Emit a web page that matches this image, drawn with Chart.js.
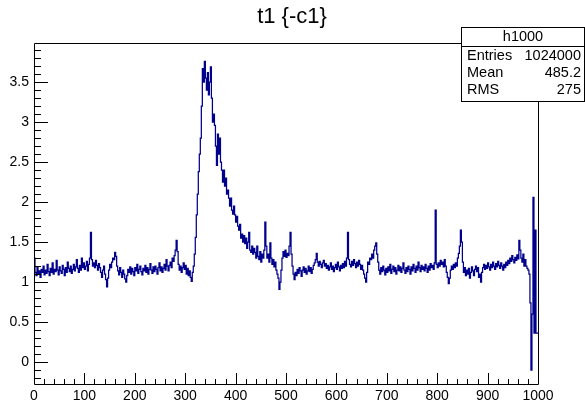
<!DOCTYPE html>
<html>
<head>
<meta charset="utf-8">
<script src="https://cdn.jsdelivr.net/npm/chart.js@4.4.0/dist/chart.umd.min.js"></script>
<style>
  body { margin: 0; background: #fff; }
  canvas { display: block; }
</style>
</head>
<body>
<canvas id="c1" width="585" height="406"></canvas>
<script>
// h1000: 1000 bins from 0 to 1000 in groups of 2 bins
var binWidth = 2;
var counts = [
  1.70, 1.30, 1.12, 1.08, 1.18, 1.10, 1.14, 1.06, 1.16, 1.12,
  1.20, 1.09, 1.15, 1.11, 1.22, 1.13, 1.08, 1.17, 1.12, 1.24,
  1.10, 1.16, 1.13, 1.27, 1.15, 1.09, 1.19, 1.14, 1.11, 1.21,
  1.16, 1.08, 1.18, 1.12, 1.25, 1.17, 1.13, 1.20, 1.11, 1.16,
  1.22, 1.14, 1.19, 1.28, 1.17, 1.12, 1.21, 1.15, 1.30, 1.18,
  1.24, 1.16, 1.20, 1.26, 1.14, 1.22, 1.30, 1.62, 1.28, 1.20,
  1.24, 1.18, 1.27, 1.21, 1.15, 1.23, 1.18, 1.12, 1.06, 1.15,
  1.20, 1.10, 1.03, 0.94, 1.05, 1.15, 1.22, 1.18, 1.25, 1.30,
  1.28, 1.37, 1.32, 1.20, 1.14, 1.09, 1.18, 1.12, 1.06, 1.15,
  1.10, 1.04, 1.00, 1.08, 1.16, 1.12, 1.19, 1.10, 1.17, 1.13,
  1.08, 1.18, 1.14, 1.22, 1.11, 1.16, 1.20, 1.13, 1.09, 1.17,
  1.14, 1.21, 1.12, 1.18, 1.10, 1.16, 1.23, 1.15, 1.11, 1.19,
  1.13, 1.20, 1.16, 1.10, 1.18, 1.24, 1.14, 1.19, 1.12, 1.17,
  1.22, 1.15, 1.28, 1.20, 1.14, 1.21, 1.25, 1.18, 1.30, 1.26,
  1.33, 1.40, 1.52, 1.38, 1.22, 1.15, 1.20, 1.12, 1.18, 1.24,
  1.16, 1.21, 1.10, 1.17, 1.08, 1.14, 1.06, 1.01, 1.12, 1.20,
  1.35, 1.56, 1.84, 2.10, 2.38, 2.60, 2.80, 3.20, 3.67, 3.50,
  3.76, 3.55, 3.40, 3.62, 3.34, 3.50, 3.69, 3.30, 3.00, 3.10,
  2.96, 2.70, 2.46, 2.85, 2.60, 2.80, 2.50, 2.40, 2.25, 2.40,
  2.20, 2.30, 2.10, 2.15, 2.05, 1.95, 2.05, 1.90, 1.85, 1.95,
  1.84, 1.75, 1.82, 1.70, 1.65, 1.72, 1.55, 1.60, 1.50, 1.58,
  1.48, 1.55, 1.42, 1.50, 1.62, 1.40, 1.37, 1.45, 1.35, 1.42,
  1.37, 1.30, 1.45, 1.32, 1.28, 1.38, 1.25, 1.35, 1.30, 1.40,
  1.75, 1.45, 1.30, 1.35, 1.25, 1.49, 1.30, 1.22, 1.28, 1.19,
  1.25, 1.15, 1.10, 1.05, 0.91, 1.00, 1.15, 1.30, 1.38, 1.32,
  1.40, 1.31, 1.36, 1.33, 1.45, 1.62, 1.35, 1.20, 1.10, 1.03,
  1.12, 1.08, 1.16, 1.11, 1.18, 1.14, 1.07, 1.15, 1.19, 1.12,
  1.17, 1.10, 1.14, 1.20, 1.13, 1.18, 1.11, 1.16, 1.21, 1.24,
  1.28, 1.36, 1.25, 1.20, 1.26, 1.22, 1.18, 1.24, 1.27, 1.20,
  1.23, 1.17, 1.21, 1.15, 1.19, 1.24, 1.16, 1.20, 1.13, 1.18,
  1.22, 1.16, 1.25, 1.19, 1.14, 1.21, 1.17, 1.23, 1.18, 1.26,
  1.20, 1.30, 1.62, 1.28, 1.22, 1.19, 1.26, 1.21, 1.28, 1.23,
  1.18, 1.25, 1.20, 1.27, 1.22, 1.16, 1.21, 1.15, 1.10, 1.05,
  1.00, 1.12, 1.25, 1.22, 1.30, 1.28, 1.35, 1.30, 1.40, 1.45,
  1.49, 1.35, 1.25, 1.15, 1.10, 1.18, 1.13, 1.20, 1.15, 1.09,
  1.17, 1.12, 1.19, 1.14, 1.22, 1.11, 1.16, 1.20, 1.13, 1.18,
  1.10, 1.15, 1.21, 1.14, 1.19, 1.12, 1.17, 1.24, 1.15, 1.11,
  1.18, 1.13, 1.20, 1.16, 1.10, 1.19, 1.14, 1.22, 1.17, 1.12,
  1.20, 1.15, 1.25, 1.18, 1.13, 1.21, 1.16, 1.19, 1.14, 1.22,
  1.17, 1.12, 1.20, 1.15, 1.23, 1.18, 1.21, 1.16, 1.24, 1.90,
  1.22, 1.18, 1.24, 1.20, 1.27, 1.22, 1.25, 1.19, 1.28, 1.20,
  1.12, 1.06, 0.98, 1.05, 1.15, 1.20, 1.16, 1.22, 1.18, 1.24,
  1.20, 1.30, 1.36, 1.45, 1.65, 1.50, 1.25, 1.12, 1.18, 1.08,
  1.15, 1.10, 1.17, 1.05, 1.12, 1.19, 1.14, 1.08, 1.16, 1.20,
  1.13, 1.18, 1.06, 1.10, 1.00, 1.12, 1.18, 1.22, 1.16, 1.21,
  1.17, 1.24, 1.19, 1.15, 1.22, 1.18, 1.25, 1.20, 1.16, 1.23,
  1.19, 1.26, 1.21, 1.17, 1.24, 1.20, 1.15, 1.22, 1.18, 1.25,
  1.21, 1.27, 1.23, 1.30, 1.26, 1.33, 1.28, 1.24, 1.31, 1.27,
  1.34, 1.29, 1.52, 1.40, 1.30, 1.25, 1.35, 1.20, 1.28, 1.20,
  1.17, 1.15, 1.10, 0.74, -0.10, 0.60, 2.06, 0.36, 1.65, 0.36
];
var xTicks = [0, 100, 200, 300, 400, 500, 600, 700, 800, 900, 1000];
var yTicks = [0, 0.5, 1, 1.5, 2, 2.5, 3, 3.5];
var title = "t1 {-c1}";
var statName = "h1000";
var statLabels = ["Entries", "Mean", "RMS"];
var statValues = ["1024000", "485.2", "275"];

var points = [];
for (var i = 0; i < counts.length; i++) {
  points.push({x: i * binWidth, y: counts[i]});
}
// close the last bin
points.push({x: counts.length * binWidth, y: counts[counts.length - 1]});

var FONT = "'Liberation Sans', Arial, sans-serif";

var rootFrame = {
  id: 'rootFrame',
  afterDatasetsDraw: function(chart) {
    var ctx = chart.ctx;
    var a = chart.chartArea;
    var xs = chart.scales.x, ys = chart.scales.y;
    ctx.save();
    ctx.strokeStyle = '#000';
    ctx.lineWidth = 1;
    ctx.beginPath();
    ctx.rect(a.left + 0.5, a.top + 0.5, a.right - a.left, a.bottom - a.top);
    ctx.stroke();

    // x ticks, inside the frame
    ctx.beginPath();
    for (var v = 0; v <= 1000; v += 20) {
      var px = Math.round(xs.getPixelForValue(v)) + 0.5;
      var len = (v % 100 === 0) ? 11 : 5;
      ctx.moveTo(px, a.bottom);
      ctx.lineTo(px, a.bottom - len);
    }
    // y ticks
    for (var k = -2; k <= 39; k++) {
      var py = Math.round(ys.getPixelForValue(k / 10)) + 0.5;
      var l = (k % 5 === 0) ? 14 : 7;
      ctx.moveTo(a.left, py);
      ctx.lineTo(a.left + l, py);
    }
    ctx.stroke();

    // title
    ctx.fillStyle = '#000';
    ctx.font = '22px ' + FONT;
    ctx.textAlign = 'center';
    ctx.textBaseline = 'middle';
    ctx.fillText(title, 292, 17);

    // stats box
    var bx = 461.5, by = 27.5, bw = 123, bh = 74;
    ctx.fillStyle = '#fff';
    ctx.fillRect(bx, by, bw, bh);
    ctx.strokeRect(bx, by, bw, bh);
    ctx.beginPath();
    ctx.moveTo(bx, 46.5);
    ctx.lineTo(bx + bw, 46.5);
    ctx.stroke();
    ctx.fillStyle = '#000';
    ctx.font = '14.5px ' + FONT;
    ctx.textAlign = 'center';
    ctx.fillText(statName, bx + bw / 2, 37);
    for (var r = 0; r < statLabels.length; r++) {
      var ty = 56 + r * 17;
      ctx.textAlign = 'left';
      ctx.fillText(statLabels[r], 467, ty);
      ctx.textAlign = 'right';
      ctx.fillText(statValues[r], 581, ty);
    }
    ctx.restore();
  }
};

new Chart(document.getElementById('c1'), {
  type: 'line',
  data: {
    datasets: [{
      label: statName,
      data: points,
      stepped: 'after',
      borderColor: 'rgb(0, 0, 140)',
      borderWidth: 1.25,
      pointRadius: 0,
      fill: false
    }]
  },
  options: {
    responsive: false,
    animation: false,
    events: [],
    layout: { padding: { top: 43, right: 47, left: 0, bottom: 0 } },
    plugins: { legend: { display: false }, tooltip: { enabled: false } },
    scales: {
      x: {
        type: 'linear',
        min: 0,
        max: 1000,
        afterBuildTicks: function(s) { s.ticks = xTicks.map(function(v) { return {value: v}; }); },
        afterFit: function(s) { s.height = 22; },
        grid: { display: false, drawTicks: false },
        border: { display: false },
        ticks: {
          padding: 4, color: '#000', font: { family: FONT, size: 14 }, maxRotation: 0, autoSkip: false,
          callback: function(v) { return String(v); }
        }
      },
      y: {
        type: 'linear',
        min: -0.275,
        max: 3.99,
        afterBuildTicks: function(s) { s.ticks = yTicks.map(function(v) { return {value: v}; }); },
        afterFit: function(s) { s.width = 34; },
        grid: { display: false, drawTicks: false },
        border: { display: false },
        ticks: {
          padding: 5, color: '#000', font: { family: FONT, size: 14 },
          callback: function(v) { return String(v); }
        }
      }
    }
  },
  plugins: [rootFrame]
});
</script>
</body>
</html>
